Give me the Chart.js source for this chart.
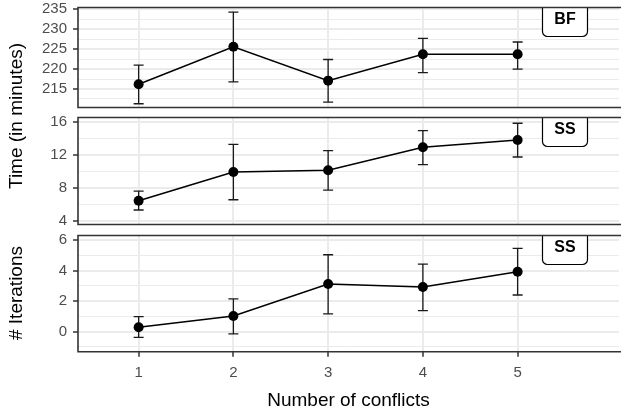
<!DOCTYPE html>
<html>
<head>
<meta charset="utf-8">
<script src="https://cdn.jsdelivr.net/npm/chart.js@4"></script>
<style>
  body { margin: 0; background: #fff; }
  #wrap { position: relative; width: 624px; height: 414px; overflow: hidden; font-family: "Liberation Sans", Arial, sans-serif; }
  canvas { position: absolute; left: 0; }
  .ytitle { position: absolute; left: 16px; font-size: 19px; color: #000; white-space: nowrap;
            transform: translate(-50%, -50%) rotate(-90deg); }
</style>
</head>
<body>
<div id="wrap">
  <canvas id="bf"></canvas>
  <canvas id="ssTime"></canvas>
  <canvas id="ssIter"></canvas>
  <div class="ytitle" style="top:116px">Time (in minutes)</div>
  <div class="ytitle" style="top:293px"># Iterations</div>
</div>
<script>
// data
const conflicts = [1, 2, 3, 4, 5];

const bfTime = [216.2, 225.6, 217.1, 223.7, 223.7];
const bfLow  = [211.3, 216.8, 211.7, 219.1, 220.0];
const bfHigh = [221.0, 234.3, 222.4, 227.7, 226.8];

const ssTime     = [6.46, 9.95, 10.16, 12.96, 13.85];
const ssTimeLow  = [5.33, 6.58, 7.76, 10.84, 11.78];
const ssTimeHigh = [7.64, 13.32, 12.55, 14.98, 15.88];

const ssIter     = [0.29, 1.03, 3.12, 2.92, 3.92];
const ssIterLow  = [-0.37, -0.15, 1.17, 1.38, 2.40];
const ssIterHigh = [0.98, 2.14, 5.03, 4.42, 5.45];

const bfTicks = [215, 220, 225, 230, 235];
const timeTicks = [4, 8, 12, 16];
const iterTicks = [0, 2, 4, 6];
const xTicks = [1, 2, 3, 4, 5];

Chart.defaults.font.family = "'Liberation Sans', Arial, sans-serif";

const panels = [
    { id: 'bf', top: 0, height: 114, areaTop: 7.5, areaBottom: 107.5, min: 210.36, max: 235.45,
      ticks: bfTicks, label: 'BF', mean: bfTime, low: bfLow, high: bfHigh, showX: false },
    { id: 'ssTime', top: 110, height: 122, areaTop: 117.5, areaBottom: 224.5, min: 3.57, max: 16.58,
      ticks: timeTicks, label: 'SS', mean: ssTime, low: ssTimeLow, high: ssTimeHigh, showX: false },
    { id: 'ssIter', top: 228, height: 186, areaTop: 235.5, areaBottom: 351.7, min: -1.31, max: 6.29,
      ticks: iterTicks, label: 'SS', mean: ssIter, low: ssIterLow, high: ssIterHigh, showX: true }
];

function makePanel(p) {
    const cv = document.getElementById(p.id);
    cv.width = 624; cv.height = p.height;
    cv.style.top = p.top + 'px';
    cv.style.width = '624px'; cv.style.height = p.height + 'px';

    const below = p.top + p.height - p.areaBottom;
    const xh = p.showX ? below : 0;
    const half = (p.ticks[1] - p.ticks[0]) / 2;
    const yVals = [];
    p.ticks.forEach(v => { yVals.push(v - half, v); });
    yVals.push(p.ticks[p.ticks.length - 1] + half);
    const yList = yVals.filter(v => v >= p.min && v <= p.max);
    const isMajor = v => p.ticks.includes(v);

    const decor = {
        id: 'decor',
        beforeDatasetsDraw(chart) {
            const { ctx, scales: { x, y } } = chart;
            ctx.save();
            ctx.strokeStyle = '#1a1a1a';
            ctx.lineWidth = 1.3;
            conflicts.forEach((c, i) => {
                const px = x.getPixelForValue(c);
                const yl = y.getPixelForValue(p.low[i]);
                const yh = y.getPixelForValue(p.high[i]);
                ctx.beginPath();
                ctx.moveTo(px, yl); ctx.lineTo(px, yh);
                ctx.moveTo(px - 5, yl); ctx.lineTo(px + 5, yl);
                ctx.moveTo(px - 5, yh); ctx.lineTo(px + 5, yh);
                ctx.stroke();
            });
            ctx.restore();
        },
        afterDatasetsDraw(chart) {
            const { ctx, chartArea: a, scales: { x } } = chart;
            ctx.save();
            ctx.beginPath();
            ctx.rect(a.left, a.top, a.right - a.left, a.bottom - a.top);
            ctx.clip();
            const cx = x.getPixelForValue(5.5);
            const bottom = a.top + 29;
            ctx.beginPath();
            ctx.roundRect(cx - 22.5, bottom - 33, 45, 33, 5);
            ctx.fillStyle = '#fff';
            ctx.fill();
            ctx.strokeStyle = '#000';
            ctx.lineWidth = 1.2;
            ctx.stroke();
            ctx.fillStyle = '#000';
            ctx.font = "bold 16px 'Liberation Sans', Arial, sans-serif";
            ctx.textAlign = 'center';
            ctx.textBaseline = 'middle';
            ctx.fillText(p.label, cx, bottom - 16.5);
            ctx.restore();
        },
        afterDraw(chart) {
            const { ctx, chartArea: a } = chart;
            ctx.save();
            ctx.strokeStyle = '#333';
            ctx.lineWidth = 1.6;
            ctx.beginPath();
            ctx.moveTo(a.right + 2, a.top);
            ctx.lineTo(a.left, a.top);
            ctx.lineTo(a.left, a.bottom);
            ctx.lineTo(a.right + 2, a.bottom);
            ctx.stroke();
            ctx.restore();
        }
    };

    return new Chart(cv, {
        type: 'line',
        data: {
            datasets: [{
                data: conflicts.map((c, i) => ({ x: c, y: p.mean[i] })),
                borderColor: '#000',
                borderWidth: 1.5,
                pointRadius: 5,
                pointBackgroundColor: '#000',
                pointBorderWidth: 0,
                tension: 0
            }]
        },
        options: {
            responsive: false,
            animation: false,
            layout: { padding: { left: 0, right: 0, top: p.areaTop - p.top, bottom: below - xh } },
            plugins: { legend: { display: false }, tooltip: { enabled: false } },
            scales: {
                x: {
                    type: 'linear',
                    min: 0.36,
                    max: 6.07,
                    afterBuildTicks: s => { s.ticks = xTicks.map(v => ({ value: v })); },
                    afterFit: s => { s.height = xh; s.paddingLeft = 0; s.paddingRight = 0; },
                    border: { display: false },
                    grid: {
                        color: '#EBEBEB', lineWidth: 2,
                        drawTicks: p.showX, tickLength: 5, tickColor: '#333', tickWidth: 1.5
                    },
                    ticks: {
                        display: p.showX, autoSkip: false, padding: 7,
                        color: '#4D4D4D', font: { size: 15 }
                    },
                    title: {
                        display: p.showX, text: 'Number of conflicts',
                        color: '#000', font: { size: 19 }, padding: { top: 0, bottom: 2 }
                    }
                },
                y: {
                    min: p.min,
                    max: p.max,
                    afterBuildTicks: s => { s.ticks = yList.map(v => ({ value: v })); },
                    afterFit: s => { s.width = 78; s.paddingTop = 0; s.paddingBottom = 0; },
                    border: { display: false },
                    grid: {
                        color: '#EBEBEB',
                        lineWidth: c => (c.tick && isMajor(c.tick.value)) ? 2 : 1,
                        tickLength: 5,
                        tickColor: c => (c.tick && isMajor(c.tick.value)) ? '#333' : 'rgba(0,0,0,0)',
                        tickWidth: 1.5
                    },
                    ticks: {
                        autoSkip: false, padding: 6,
                        color: '#4D4D4D', font: { size: 15 },
                        callback: v => isMajor(v) ? String(v) : ''
                    }
                }
            }
        },
        plugins: [decor]
    });
}

panels.forEach(makePanel);
</script>
</body>
</html>
